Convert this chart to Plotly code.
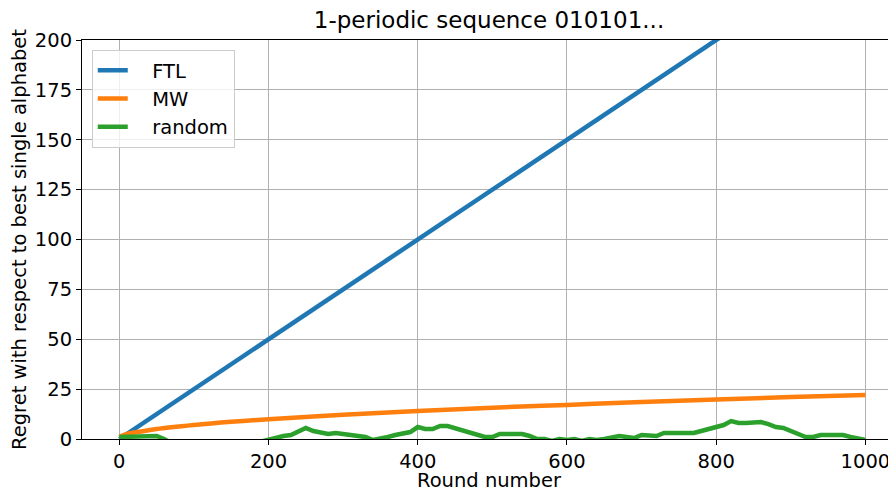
import plotly.graph_objects as go

# FTL regret (straight line, clipped at y=200)
ftl_x = [0, 1000]
ftl_y = [0, 250]

# MW regret
mw_x = [0, 10, 25, 50, 100, 150, 200, 300, 400, 500, 600, 700, 800, 900, 1000]
mw_y = [1.0, 2.5, 3.5, 5.0, 7.0, 8.6, 9.9, 12.1, 14.0, 15.7, 17.1, 18.5, 19.8, 21.0, 22.1]

# random regret (negative values are clipped by the axis)
rnd_x = list(range(0, 1001, 10))
rnd_y = [1, 1, 1.5, 1, 1.5, 1.5, 0, -2, -3, -5,
         -6, -7, -6, -5, -4, -5, -4, -3, -2, -1,
         -0.5, 0.5, 1.5, 2, 4, 5.5, 4, 3.5, 2.5, 3,
         2.5, 2.5, 2, 1, -0.5, 0, 1, 2, 3, 3.5,
         6, 5, 5, 6.5, 6.5, 5.5, 4, 3.5, 2, 1,
         1, 2.5, 2.5, 2.5, 2.5, 1.5, 0, 0, -1, 0,
         -0.5, 0, -1, 0, -0.5, 0, 1, 1.5, 1, 0.5,
         2, 2, 1.5, 3, 3, 3, 3.5, 3, 4, 5,
         6, 7, 9, 8, 8, 8, 8.5, 7.5, 6, 5.5,
         4, 2, 1, 1, 2, 2, 2, 2, 1, 0,
         -0.5]

series_names = ["FTL", "MW", "random"]
x_ticks = [0, 200, 400, 600, 800, 1000]
y_ticks = [0, 25, 50, 75, 100, 125, 150, 175, 200]

pad = "\u2009\u2009\u2009\u2009\u2009"  # shift legend text right like the reference
fig = go.Figure()
fig.add_trace(go.Scatter(x=ftl_x, y=ftl_y, mode="lines", name=pad + series_names[0],
                         line=dict(color="#1f77b4", width=4.5)))
fig.add_trace(go.Scatter(x=mw_x, y=mw_y, mode="lines", name=pad + series_names[1],
                         line=dict(color="#ff7f0e", width=4.5, shape="spline")))
fig.add_trace(go.Scatter(x=rnd_x, y=rnd_y, mode="lines", name=pad + series_names[2],
                         line=dict(color="#2ca02c", width=4.5)))

font_family = "DejaVu Sans"
# the page body has an 8px default margin; figure is sized to fill the rest
fig.update_layout(
    width=888, height=484,
    margin=dict(l=74, r=0, t=32, b=53),
    plot_bgcolor="white", paper_bgcolor="white",
    font=dict(family=font_family, size=19, color="#000"),
    title=dict(text="1-periodic sequence 010101...", x=0.5, xanchor="center",
               xref="paper", yref="container", y=1 - 12 / 484, yanchor="middle",
               font=dict(size=23, family=font_family, color="#000")),
    legend=dict(x=0.012, y=0.975, xanchor="left", yanchor="top",
                bgcolor="rgba(255,255,255,0.8)", bordercolor="#cccccc",
                borderwidth=1, font=dict(size=19.5, family=font_family)),
    showlegend=True,
)
fig.update_xaxes(range=[-50, 1041], tickvals=x_ticks, ticktext=[str(v) for v in x_ticks],
                 showgrid=True, gridcolor="#b0b0b0", gridwidth=1,
                 showline=True, linecolor="#000", linewidth=1, mirror=True,
                 ticks="outside", ticklen=5, tickcolor="#000",
                 zeroline=False, tickfont=dict(size=19.5),
                 title=dict(text="Round number", font=dict(size=19.5), standoff=3))
fig.update_yaxes(range=[0, 200], tickvals=y_ticks, ticktext=[str(v) for v in y_ticks],
                 showgrid=True, gridcolor="#b0b0b0", gridwidth=1,
                 showline=True, linecolor="#000", linewidth=1, mirror=False,
                 ticks="outside", ticklen=5, tickcolor="#000",
                 zeroline=False, tickfont=dict(size=19.5),
                 title=dict(text="Regret with respect to best single alphabet",
                            font=dict(size=19.5), standoff=6))

fig.write_html("out.html")
